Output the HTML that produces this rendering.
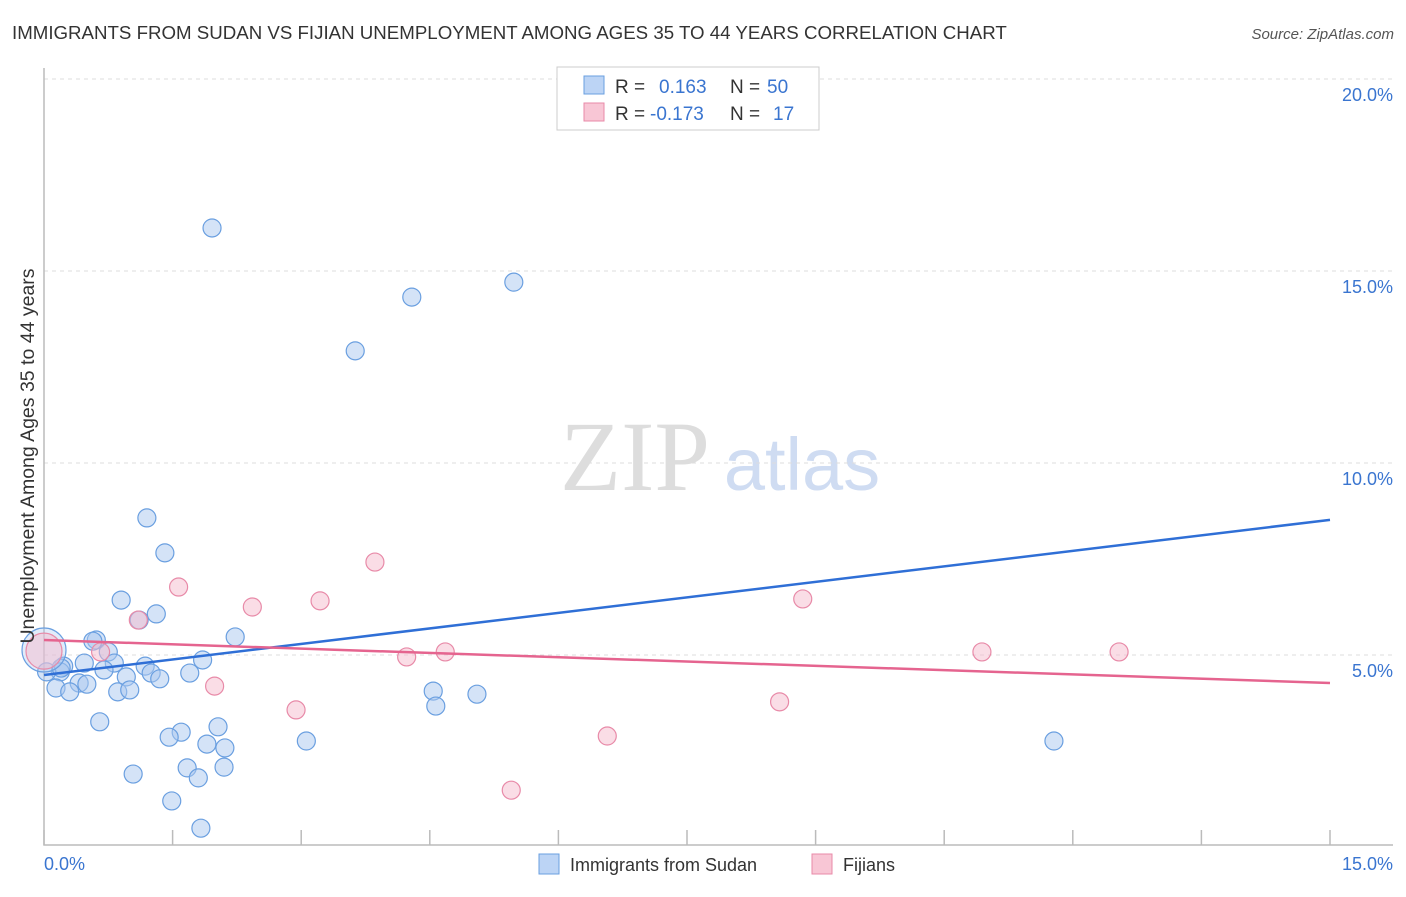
<!DOCTYPE html>
<html><head><meta charset="utf-8"><style>
body{margin:0;background:#fff;font-family:"Liberation Sans",sans-serif;}
svg text{font-family:"Liberation Sans",sans-serif;}
</style></head><body>
<svg id="chart" width="1406" height="892" viewBox="0 0 1406 892" xmlns="http://www.w3.org/2000/svg">
<text x="12" y="39" font-size="18.7" fill="#333">IMMIGRANTS FROM SUDAN VS FIJIAN UNEMPLOYMENT AMONG AGES 35 TO 44 YEARS CORRELATION CHART</text>
<text x="1394" y="39" font-size="15" fill="#555" text-anchor="end" font-style="italic">Source: ZipAtlas.com</text>
<g>
<text x="635" y="490" font-size="100" fill="#ddd" text-anchor="middle" style="font-family:'Liberation Serif',serif">ZIP</text>
<text x="802" y="490" font-size="74" fill="#cfdcf2" text-anchor="middle">atlas</text>
</g>
<g id="grid"></g>
<g id="axes"></g>
<g id="marks"></g>
<text transform="translate(34,456) rotate(-90)" font-size="19.5" fill="#333" text-anchor="middle">Unemployment Among Ages 35 to 44 years</text>
<g>
<rect x="557" y="67" width="262" height="63" fill="#fff" stroke="#ccc"/>
<rect x="584" y="76" width="20" height="18" fill="#bcd4f5" stroke="#6a9fe0"/>
<rect x="584" y="103" width="20" height="18" fill="#f8c6d5" stroke="#e88aa8"/>
<text x="615" y="93" font-size="19" fill="#333">R = </text><text x="659" y="93" font-size="19" fill="#3a75d0">0.163</text>
<text x="730" y="93" font-size="19" fill="#333">N = </text><text x="767" y="93" font-size="19" fill="#3a75d0">50</text>
<text x="615" y="120" font-size="19" fill="#333">R = </text><text x="650" y="120" font-size="19" fill="#3a75d0">-0.173</text>
<text x="730" y="120" font-size="19" fill="#333">N = </text><text x="773" y="120" font-size="19" fill="#3a75d0">17</text>
</g>
<g>
<rect x="539" y="854" width="20" height="20" fill="#bcd4f5" stroke="#6a9fe0"/>
<text x="570" y="871" font-size="18" fill="#333">Immigrants from Sudan</text>
<rect x="812" y="854" width="20" height="20" fill="#f8c6d5" stroke="#e88aa8"/>
<text x="843" y="871" font-size="18" fill="#333">Fijians</text>
</g>
</svg>
<script>
const xTicks=[0,1.5,3,4.5,6,7.5,9,10.5,12,13.5,15];
const yTicks=[5,10,15,20];
const yTickLabels=["5.0%","10.0%","15.0%","20.0%"];
const xTickLabels=["0.0%","15.0%"];
const sudanX=[1.96,4.29,5.48,3.63,1.20,1.41,0.90,1.31,1.11,2.23,0.61,0.57,0.75,0.23,0.47,0.82,1.18,0.19,0.70,1.85,0.96,1.25,1.35,1.70,0.41,0.50,0.14,0.30,0.86,1.00,4.54,5.05,4.57,0.65,1.60,1.46,2.03,1.90,2.11,3.06,11.78,1.04,1.67,2.10,1.80,1.49,1.83,0.03,0.20,0.0];
const sudanY=[16.12,14.32,14.71,12.92,8.57,7.66,6.43,6.07,5.91,5.47,5.39,5.36,5.08,4.71,4.79,4.79,4.71,4.56,4.61,4.87,4.43,4.53,4.38,4.53,4.27,4.24,4.14,4.04,4.04,4.09,4.06,3.98,3.67,3.26,2.99,2.86,3.13,2.68,2.58,2.76,2.76,1.90,2.06,2.08,1.80,1.20,0.49,4.56,4.66,5.13];
const fijiX=[1.57,3.86,2.43,3.22,1.10,8.85,0.66,4.68,4.23,10.94,12.54,1.99,2.94,8.58,6.57,5.45,0.0];
const fijiY=[6.77,7.42,6.25,6.41,5.91,6.46,5.08,5.08,4.95,5.08,5.08,4.19,3.57,3.78,2.89,1.48,5.1];
const sudanTrend=[4.48,8.52];
const fijiTrend=[5.39,4.27];
const NS="http://www.w3.org/2000/svg";
const X0=44,X1=1330,Y0=847,PXY=38.4;
function sx(v){return X0+(X1-X0)*v/15;}
function sy(v){return Y0-v*PXY;}
function mk(tag,attrs,parent){const e=document.createElementNS(NS,tag);for(const k in attrs)e.setAttribute(k,attrs[k]);parent.appendChild(e);return e;}
const grid=document.getElementById('grid'),axes=document.getElementById('axes'),marks=document.getElementById('marks');
yTicks.forEach((t,i)=>{
 const l=mk('line',{x1:44,x2:1393,y1:sy(t),y2:sy(t),stroke:'#ddd','stroke-dasharray':'4,4'},grid);
 
 
 const tx=mk('text',{x:1393,y:sy(t)+22,'font-size':18,fill:'#3a75d0','text-anchor':'end'},grid);
 tx.textContent=yTickLabels[i];
 
 
});
const ax=mk('path',{d:'M44,68V845H1393',fill:'none',stroke:'#bbb','stroke-width':1.5},axes);


xTicks.forEach(t=>{
 const l=mk('line',{x1:sx(t),x2:sx(t),y1:830,y2:845,stroke:'#bbb','stroke-width':1.5},axes);
 
 
});
const xl0=mk('text',{x:44,y:870,'font-size':18,fill:'#3a75d0'},axes);xl0.textContent=xTickLabels[0];


const xl1=mk('text',{x:1393,y:870,'font-size':18,fill:'#3a75d0','text-anchor':'end'},axes);xl1.textContent=xTickLabels[1];


sudanX.forEach((v,i)=>{
 const big=i===sudanX.length-1;
 const c=mk('circle',{cx:sx(v),cy:sy(sudanY[i]),r:big?22:9,fill:'#a9c8f0','fill-opacity':big?0.35:0.5,stroke:'#6a9fe0','stroke-width':1.2},marks);
 
 
});
fijiX.forEach((v,i)=>{
 const big=i===fijiX.length-1;
 const c=mk('circle',{cx:sx(v),cy:sy(fijiY[i]),r:big?18:9,fill:'#f6bccd','fill-opacity':0.5,stroke:'#e88aa8','stroke-width':1.2},marks);
 
 
});
const bt=mk('line',{x1:sx(0),y1:sy(sudanTrend[0]),x2:sx(15),y2:sy(sudanTrend[1]),stroke:'#2f6fd6','stroke-width':2.5},marks);


const pt=mk('line',{x1:sx(0),y1:sy(fijiTrend[0]),x2:sx(15),y2:sy(fijiTrend[1]),stroke:'#e5648f','stroke-width':2.5},marks);


</script>
</body></html>
